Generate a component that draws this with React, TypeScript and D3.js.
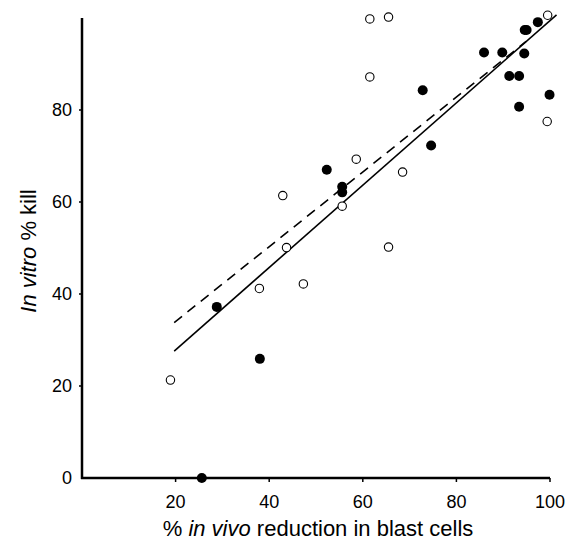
import React, { useEffect, useRef } from "react";
import * as d3 from "d3";

// filled circles: [in vivo % reduction, in vitro % kill]
const filledX = [25.6, 28.8, 38.0, 52.3, 55.6, 55.6, 72.8, 74.6, 85.9, 89.8, 91.3, 93.4, 93.4, 94.5, 94.6, 95.0, 97.4, 99.9];
const filledY = [0, 37.2, 25.9, 67.0, 63.3, 62.1, 84.3, 72.3, 92.5, 92.5, 87.4, 87.4, 80.7, 92.3, 97.4, 97.4, 99.1, 83.3];

// open circles
const openX = [18.9, 37.9, 42.9, 43.7, 47.3, 55.6, 58.6, 61.5, 61.5, 65.5, 65.5, 68.5, 99.4, 99.5];
const openY = [21.3, 41.2, 61.4, 50.1, 42.2, 59.1, 69.3, 99.8, 87.2, 100.2, 50.2, 66.5, 77.5, 100.6];

// fitted lines (end points)
const solidLine = [[19.7, 27.6], [101.4, 100.7]];
const dashedLine = [[19.7, 33.8], [94.9, 94.9]];

const xTicks = [20, 40, 60, 80, 100];
const yTicks = [0, 20, 40, 60, 80];

const W = 566, H = 544;

export default function App() {
  const ref = useRef<SVGSVGElement>(null);

  useEffect(() => {
    const svg = d3.select(ref.current);
    svg.selectAll("*").remove();

    const x = d3.scaleLinear().domain([0, 100]).range([82, 550]);
    const y = d3.scaleLinear().domain([0, 100]).range([478, 18]);
    const font = "'Liberation Sans', Arial, sans-serif";

    // axes
    svg.append("line")
      .attr("x1", x(0)).attr("x2", x(0))
      .attr("y1", y(100)).attr("y2", y(0) + 1)
      .attr("stroke", "#000").attr("stroke-width", 2.5);
    svg.append("line")
      .attr("x1", x(0) - 1).attr("x2", x(100))
      .attr("y1", y(0)).attr("y2", y(0))
      .attr("stroke", "#000").attr("stroke-width", 2.5);

    svg.selectAll(".xt").data(xTicks).enter().append("line")
      .attr("x1", d => x(d)).attr("x2", d => x(d))
      .attr("y1", y(0)).attr("y2", y(0) + 4)
      .attr("stroke", "#000").attr("stroke-width", 1.5);
    svg.selectAll(".xl").data(xTicks).enter().append("text")
      .attr("x", d => x(d)).attr("y", 508)
      .attr("text-anchor", "middle")
      .style("font-family", font).style("font-size", "18px")
      .text(d => d);

    svg.selectAll(".yt").data(yTicks.filter(d => d > 0)).enter().append("line")
      .attr("x1", x(0) - 3).attr("x2", x(0))
      .attr("y1", d => y(d)).attr("y2", d => y(d))
      .attr("stroke", "#000").attr("stroke-width", 1.5);
    svg.selectAll(".yl").data(yTicks).enter().append("text")
      .attr("x", 72).attr("y", d => y(d) + 6)
      .attr("text-anchor", "end")
      .style("font-family", font).style("font-size", "18px")
      .text(d => d);

    // axis titles
    const xt = svg.append("text")
      .attr("x", 318).attr("y", 536)
      .attr("text-anchor", "middle")
      .style("font-family", font).style("font-size", "22px");
    xt.append("tspan").text("% ");
    xt.append("tspan").style("font-style", "italic").text("in vivo");
    xt.append("tspan").text(" reduction in blast cells");

    const yt = svg.append("text")
      .attr("transform", "translate(36,251) rotate(-90)")
      .attr("text-anchor", "middle")
      .style("font-family", font).style("font-size", "22px");
    yt.append("tspan").style("font-style", "italic").text("In vitro");
    yt.append("tspan").text(" % kill");

    // fitted lines
    const line = d3.line<number[]>().x(d => x(d[0])).y(d => y(d[1]));
    svg.append("path").attr("d", line(solidLine))
      .attr("fill", "none").attr("stroke", "#000").attr("stroke-width", 1.6);
    svg.append("path").attr("d", line(dashedLine))
      .attr("fill", "none").attr("stroke", "#000").attr("stroke-width", 1.6)
      .attr("stroke-dasharray", "10,7");

    // points
    svg.selectAll(".op").data(openX).enter().append("circle")
      .attr("cx", d => x(d)).attr("cy", (d, i) => y(openY[i]))
      .attr("r", 4.2).attr("fill", "#fff").attr("stroke", "#000").attr("stroke-width", 1.1);
    svg.selectAll(".fp").data(filledX).enter().append("circle")
      .attr("cx", d => x(d)).attr("cy", (d, i) => y(filledY[i]))
      .attr("r", 5).attr("fill", "#000");
  }, []);

  return (
    <svg ref={ref} width={W} height={H}
      style={{ position: "absolute", left: 0, top: 0, background: "#fff" }} />
  );
}
